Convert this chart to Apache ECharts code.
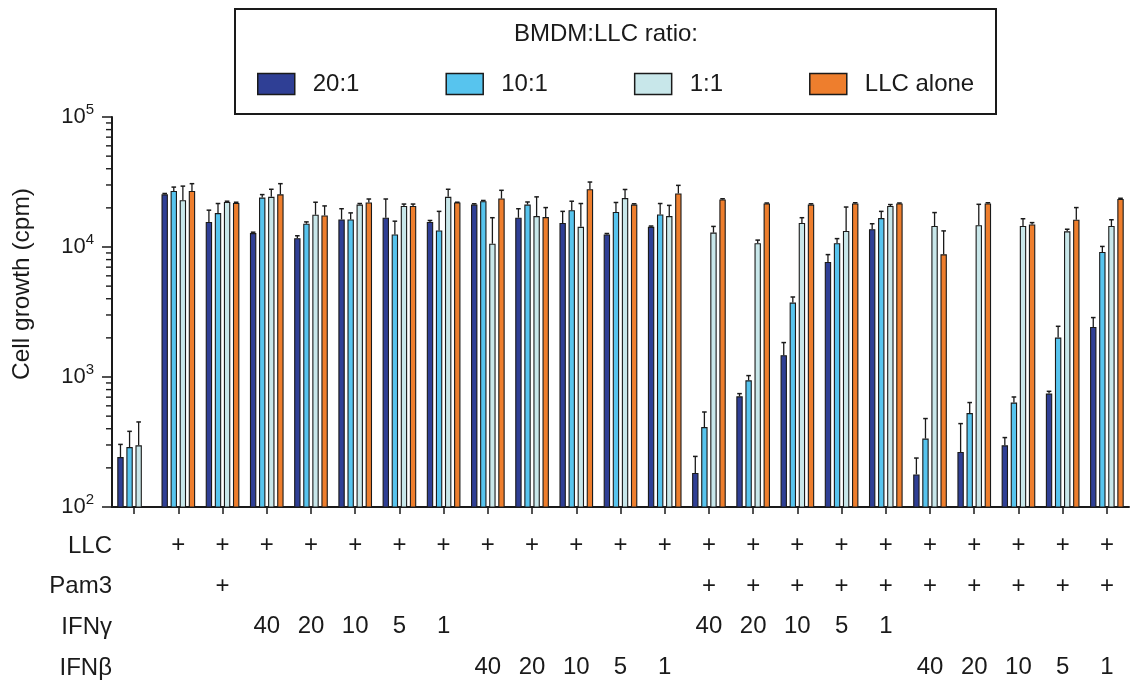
<!DOCTYPE html>
<html>
<head>
<meta charset="utf-8">
<script src="https://cdn.jsdelivr.net/npm/echarts@6/dist/echarts.min.js"></script>
<style>
  html, body { margin: 0; padding: 0; background: #ffffff; }
  #chart { width: 1134px; height: 682px; }
</style>
</head>
<body>
<div id="chart"></div>
<script>
// Treatment table shown under the x axis (one entry per group of bars)
const rowNames = ['LLC', 'Pam3', 'IFNγ', 'IFNβ'];
const llcRow  = ['', '+', '+', '+', '+', '+', '+', '+', '+', '+', '+', '+', '+', '+', '+', '+', '+', '+', '+', '+', '+', '+', '+'];
const pam3Row = ['', '', '+', '', '', '', '', '', '', '', '', '', '', '+', '+', '+', '+', '+', '+', '+', '+', '+', '+'];
const ifngRow = ['', '', '', '40', '20', '10', '5', '1', '', '', '', '', '', '40', '20', '10', '5', '1', '', '', '', '', ''];
const ifnbRow = ['', '', '', '', '', '', '', '', '40', '20', '10', '5', '1', '', '', '', '', '', '40', '20', '10', '5', '1'];

// Series names (BMDM:LLC ratio)
const seriesNames = ['20:1', '10:1', '1:1', 'LLC alone'];

// Mean cell growth (cpm) per group
const mean20 = [242, 25400, 15600, 12800, 11700, 16300, 16800, 15600, 21200, 16800, 15300, 12500, 14300, 183, 710, 1470, 7670, 13700, 178, 265, 298, 745, 2425];
const mean10 = [289, 27000, 18250, 24000, 15100, 16300, 12500, 13400, 22500, 21200, 19200, 18600, 17800, 412, 943, 3735, 10700, 16700, 336, 528, 636, 2010, 9150];
const mean1  = [298, 22900, 22200, 24300, 17700, 21200, 20700, 24300, 10600, 17300, 14300, 23800, 17300, 12900, 10700, 15300, 13300, 20700, 14500, 14700, 14500, 13200, 14500];
const meanLLC = [null, 27000, 21800, 25400, 17500, 22000, 20700, 22000, 23600, 17000, 27800, 21200, 25800, 23200, 21600, 21200, 21600, 21600, 8790, 21600, 14900, 16200, 23400];

// Upper end of each error bar (mean + SD)
const upper20 = [303, 25800, 19200, 13000, 12200, 19700, 23400, 16000, 21500, 19700, 18800, 12700, 14500, 245, 745, 1840, 8740, 15100, 238, 438, 342, 776, 2865];
const upper10 = [382, 28900, 21600, 25300, 15600, 18300, 15800, 18800, 22800, 22200, 22500, 22000, 21600, 538, 1025, 4125, 11600, 18800, 479, 636, 702, 2455, 10100];
const upper1  = [451, 29400, 22500, 27800, 22100, 21600, 21400, 27800, 16800, 24300, 21600, 27700, 20900, 14400, 11300, 16800, 20300, 21200, 18400, 21300, 16500, 13700, 16200];
const upperLLC = [null, 30700, 22100, 30700, 20700, 23400, 21400, 22100, 27300, 20100, 31600, 21500, 29800, 23500, 21800, 21500, 21900, 21800, 13300, 21900, 15400, 20100, 23700];

// Minor ticks of the log axis
const minorTickValues = [200, 300, 400, 500, 600, 700, 800, 900,
                         2000, 3000, 4000, 5000, 6000, 7000, 8000, 9000,
                         20000, 30000, 40000, 50000, 60000, 70000, 80000, 90000];

const FONT = 'Liberation Sans, Arial, Helvetica, sans-serif';
const INK = '#1a1a1a';
const COLORS = ['#2f3f95', '#57c4ee', '#c8e7ea', '#ee7e2d'];
const BAR_W = 6.4;
const BAR_GAP = 0.42;

const means = [mean20, mean10, mean1, meanLLC];
const uppers = [upper20, upper10, upper1, upperLLC];

const categoryLabels = llcRow.map((_, i) =>
  [llcRow[i], pam3Row[i], ifngRow[i], ifnbRow[i]].map(s => s === '' ? ' ' : s).join('\n')
);

const chart = echarts.init(document.getElementById('chart'), null, { renderer: 'canvas' });

const barSeries = seriesNames.map((name, k) => ({
  name: name,
  type: 'bar',
  data: means[k],
  barWidth: BAR_W,
  barGap: (BAR_GAP * 100) + '%',
  clip: true,
  itemStyle: { color: COLORS[k], borderColor: INK, borderWidth: 1.1 },
  emphasis: { disabled: true },
  z: 2
}));

function errorRenderer(k) {
  return function (params, api) {
    const i = api.value(0);
    const base = api.coord([i, api.value(1)]);
    const top = api.coord([i, api.value(2)]);
    const x = base[0] + (k - 1.5) * BAR_W * (1 + BAR_GAP);
    const cap = 2.3;
    return {
      type: 'group',
      children: [
        { type: 'line', shape: { x1: x, y1: base[1], x2: x, y2: top[1] }, style: { stroke: INK, lineWidth: 1.3 } },
        { type: 'line', shape: { x1: x - cap, y1: top[1], x2: x + cap, y2: top[1] }, style: { stroke: INK, lineWidth: 1.5 } }
      ]
    };
  };
}

const errorSeries = seriesNames.map((name, k) => ({
  name: name + ' SD',
  type: 'custom',
  renderItem: errorRenderer(k),
  data: means[k].map((v, i) => v == null ? null : [i, v, uppers[k][i]]).filter(d => d),
  encode: { x: 0, y: [1, 2] },
  silent: true,
  z: 3
}));

const minorTickSeries = {
  name: 'minor ticks',
  type: 'custom',
  silent: true,
  renderItem: function (params, api) {
    const y = api.coord([0, api.value(1)])[1];
    const x0 = params.coordSys.x;
    return { type: 'line', shape: { x1: x0 - 6, y1: y, x2: x0, y2: y }, style: { stroke: INK, lineWidth: 1.4 } };
  },
  data: minorTickValues.map(v => [0, v]),
  encode: { x: 0, y: 1 },
  z: 4
};

const option = {
  backgroundColor: '#ffffff',
  animation: false,
  textStyle: { fontFamily: FONT, color: INK },
  grid: { left: 112, right: 5, top: 117, bottom: 175, containLabel: false, outerBoundsMode: 'none' },
  legend: {
    data: seriesNames,
    left: 252,
    top: 67,
    icon: 'rect',
    itemWidth: 37,
    itemHeight: 21,
    itemGap: 86,
    selectedMode: false,
    itemStyle: { borderColor: INK, borderWidth: 1.5 },
    textStyle: { fontSize: 24, color: INK, fontFamily: FONT, padding: [0, 0, 0, 13] }
  },
  xAxis: {
    type: 'category',
    data: categoryLabels,
    boundaryGap: true,
    axisLine: { show: true, lineStyle: { color: INK, width: 2 } },
    axisTick: { show: true, alignWithLabel: true, length: 7, lineStyle: { color: INK, width: 1.5 } },
    axisLabel: {
      interval: 0,
      fontSize: 24,
      lineHeight: 40.7,
      margin: 18,
      color: INK,
      fontFamily: FONT
    },
    splitLine: { show: false }
  },
  yAxis: {
    type: 'log',
    logBase: 10,
    min: 100,
    max: 100000,
    axisLine: { show: true, lineStyle: { color: INK, width: 2 } },
    axisTick: { show: true, length: 10, lineStyle: { color: INK, width: 1.5 } },
    splitLine: { show: false },
    axisLabel: {
      margin: 18,
      color: INK,
      formatter: function (v) {
        return '{b|10}{s|' + Math.round(Math.log10(v)) + '}';
      },
      rich: {
        b: { fontSize: 22, fontFamily: FONT, color: INK },
        s: { fontSize: 15, fontFamily: FONT, color: INK, padding: [0, 0, 14, 0] }
      }
    }
  },
  graphic: [
    {
      type: 'rect',
      shape: { x: 235, y: 9, width: 761, height: 105 },
      style: { fill: 'none', stroke: INK, lineWidth: 2 },
      silent: true
    },
    {
      type: 'text',
      style: { text: 'BMDM:LLC ratio:', x: 606, y: 34, align: 'center', verticalAlign: 'middle', fontSize: 24, fontFamily: FONT, fill: INK },
      silent: true
    },
    {
      type: 'text',
      x: 22, y: 284, rotation: Math.PI / 2,
      style: { text: 'Cell growth (cpm)', x: 0, y: 0, align: 'center', verticalAlign: 'middle', fontSize: 24.5, fontFamily: FONT, fill: INK },
      silent: true
    }
  ].concat(rowNames.map((name, r) => ({
    type: 'text',
    style: { text: name, x: 112, y: 546 + r * 40.7, align: 'right', verticalAlign: 'middle', fontSize: 24, fontFamily: FONT, fill: INK },
    silent: true
  }))),
  series: barSeries.concat(errorSeries, [minorTickSeries])
};

chart.setOption(option);
</script>
</body>
</html>
